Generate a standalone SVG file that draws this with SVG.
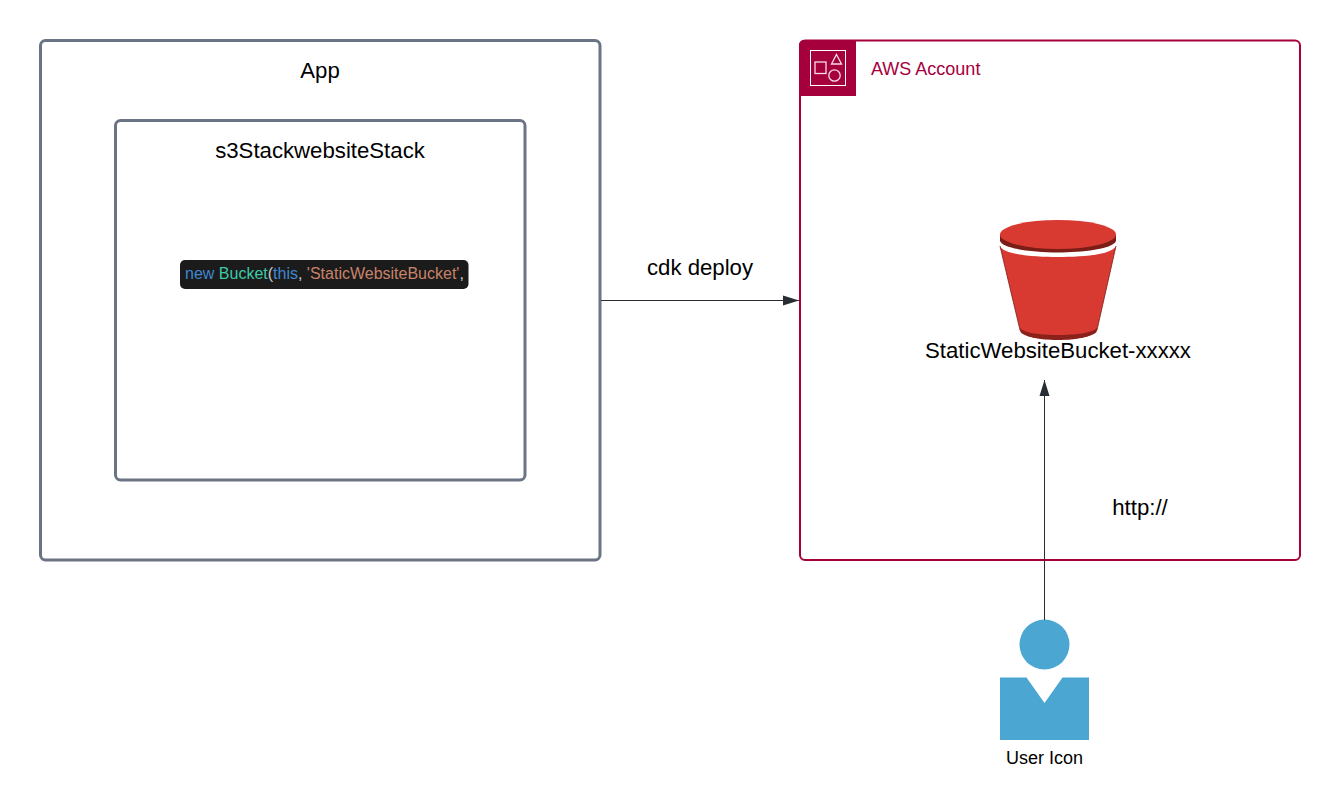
<svg xmlns="http://www.w3.org/2000/svg" width="1340" height="810" viewBox="0 0 1340 810">
<style>
text{font-family:"Liberation Sans",Arial,sans-serif;fill:#000}
.box{fill:#fff;stroke:#6b7485;stroke-width:3}
.lbl{font-size:22.200px;text-anchor:middle}
.conn{stroke:#282c33;stroke-width:1;fill:none}
</style>
<defs>
<marker id="arrow" markerUnits="userSpaceOnUse" markerWidth="18" markerHeight="12" refX="17" refY="6" orient="auto"><path d="M1 1L17 6L1 11Z" fill="#282c33"/></marker>
</defs>
<rect width="1340" height="810" fill="#fff"/>
<g id="app"><rect class="box" x="40.500" y="40.500" width="559.500" height="519.500" rx="5"/><text class="lbl" x="320" y="78">App</text></g>
<g id="stack"><rect class="box" x="115.500" y="120.500" width="409.500" height="359.500" rx="5"/><text class="lbl" x="320" y="158">s3StackwebsiteStack</text></g>
<g id="code"><rect x="180" y="260" width="288.500" height="29" rx="5" fill="#1b1b1b"/>
<text x="185" y="279" font-size="16" xml:space="preserve"><tspan fill="#4088d2">new</tspan><tspan fill="#ccc"> </tspan><tspan fill="#3ec9a6">Bucket</tspan><tspan fill="#ccc">(</tspan><tspan fill="#4088d2">this</tspan><tspan fill="#ccc">, </tspan><tspan fill="#c8836a">'StaticWebsiteBucket'</tspan><tspan fill="#ccc">,</tspan></text></g>
<g id="account"><rect x="800" y="40.500" width="500" height="519.500" rx="5" fill="#fff" stroke="#a6003c" stroke-width="2"/>
<path d="M799 96V45a5 5 0 0 1 5-5H856V96Z" fill="#a6003c"/>
<rect x="810.500" y="50.500" width="35" height="35" fill="none" stroke="#fff"/>
<rect x="815" y="62" width="11" height="11.500" fill="none" stroke="#f7dbe5" stroke-width="1.300"/>
<path d="M836.500 54.500L841.500 64H831.500Z" fill="none" stroke="#f7dbe5" stroke-width="1.300"/>
<circle cx="834.500" cy="75.500" r="5.700" fill="none" stroke="#f7dbe5" stroke-width="1.300"/>
<text x="871" y="74.500" font-size="18" style="fill:#a6003c">AWS Account</text></g>
<g id="bucket">
<path d="M1000 246C1004 255 1035 257 1058 257C1081 257 1112 255 1116 246L1097 330C1092 337 1075 339 1058 339C1041 339 1024 337 1020 330Z" fill="#d83a32"/>
<path d="M1000 246L1020 330C1024 337 1041 339 1058 339C1075 339 1092 337 1097 330L1116 246" fill="none" stroke="#7a1d17" stroke-width="0.800"/>
<path d="M1020 328C1024 333 1041 335 1058 335C1075 335 1092 333 1097 328L1096.500 332C1092 337 1075 340 1058 340C1041 340 1024 337 1020.500 332Z" fill="#8a211b"/>
<path d="M1000 235V241C1003 249 1035 252.500 1058 252.500C1081 252.500 1113 249 1116 241V235Z" fill="#7a1d17"/>
<ellipse cx="1058" cy="234.500" rx="58" ry="14.500" fill="#d83a32"/>
</g>
<g id="bucket-label"><text class="lbl" x="1058" y="358">StaticWebsiteBucket-xxxxx</text></g>
<g id="user"><circle cx="1044.500" cy="644.500" r="25" fill="#4ba6d2"/>
<path d="M1000 677.500H1026.500L1044.500 703L1062.500 677.500H1089V740H1000Z" fill="#4ba6d2"/>
<text x="1044.500" y="763.500" font-size="18" text-anchor="middle">User Icon</text></g>
<g id="connectors">
<path class="conn" d="M601 300.500H799" marker-end="url(#arrow)"/>
<path class="conn" d="M1044.500 620V380" marker-end="url(#arrow)"/>
<text class="lbl" x="700" y="275">cdk deploy</text>
<text class="lbl" x="1140" y="515">http://</text>
</g>
</svg>
